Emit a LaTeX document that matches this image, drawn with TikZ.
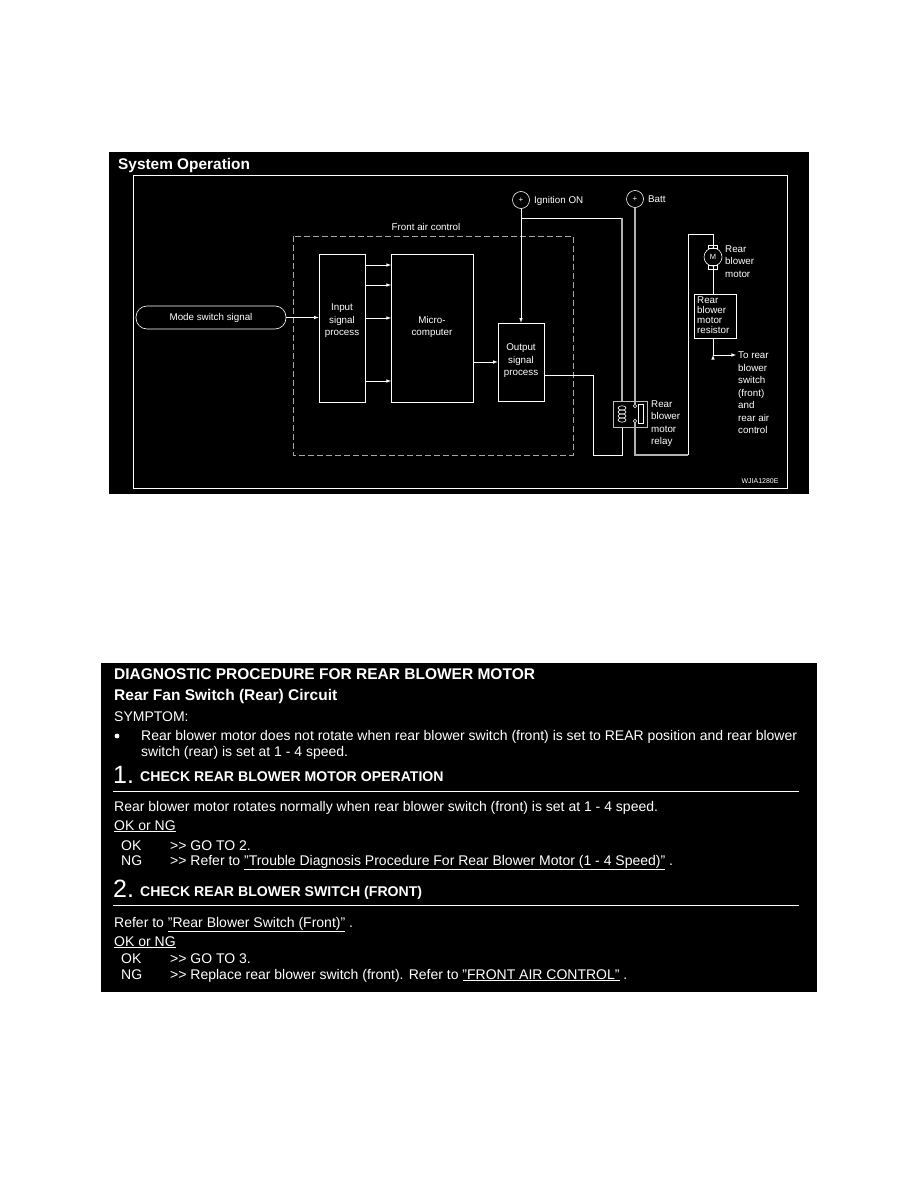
\documentclass[tikz,border=0pt]{standalone}
\usepackage{fontspec}
\setmainfont{Liberation Sans}
\usetikzlibrary{arrows}

\newcommand{\ul}[1]{\underline{#1}}
\newcommand{\qt}{\symbol{34}}

\begin{document}
\begin{tikzpicture}[x=1pt,y=-1pt,>=latex,
	wire/.style={white,line width=0.6pt},
	bus/.style={white!70!black,line width=1.5pt},
	blockbox/.style={draw=white,line width=0.6pt,inner sep=0pt},
	lbl/.style={text=white,inner sep=0pt,align=center,font=\fontsize{9.8}{12.5}\selectfont},
	lbll/.style={lbl,align=left,anchor=north west},
	diag/.style={text=white,inner sep=0pt,anchor=base west,font=\fontsize{14}{16}\selectfont},
	diagb/.style={diag,font=\fontsize{14.1}{16}\selectfont\bfseries}]
	\useasboundingbox[fill=white] (0,0) rectangle (918,1188);

	% upper panel
	\fill[black] (109,152) rectangle (809,494);
	\draw[white,line width=1pt] (133,175) rectangle (787,488);
	\node[text=white,inner sep=0pt,anchor=base west,font=\fontsize{15.4}{16}\selectfont\bfseries] (title) at (118,169) {System Operation};
	\draw[white!65!black,line width=0.8pt,dash pattern=on 6pt off 3pt] (293,236) rectangle (573,455);
	\node[lbl] (frontlbl) at (426,227) {Front air control};

	\node[blockbox,rounded corners=11pt,minimum width=150pt,minimum height=23pt] (modesig) at (211,317.5) {};
	\node[lbl] at (modesig) {Mode switch signal};
	\node[blockbox,minimum width=46pt,minimum height=148pt] (inproc) at (342,328) {};
	\node[lbl] (inlbl) at (342,321) {Input\\signal\\process};
	\node[blockbox,minimum width=82pt,minimum height=148pt] (micro) at (432,328) {};
	\node[lbl] (microlbl) at (432,327) {Micro-\\computer};
	\node[blockbox,minimum width=46pt,minimum height=78pt] (outproc) at (521,362) {};
	\node[lbl] (outlbl) at (521,361) {Output\\signal\\process};

	\node[circle,blockbox,minimum size=17pt,text=white,font=\fontsize{8}{8}\selectfont] (ign) at (521,200) {+};
	\node[circle,blockbox,minimum size=17pt,text=white,font=\fontsize{8}{8}\selectfont] (batt) at (635,199) {+};
	\node[lbl,anchor=west] (ignlbl) at (534,201) {Ignition ON};
	\node[lbl,anchor=west] (battlbl) at (648,199) {Batt};

	% relay
	\node[blockbox,draw=white!75!black,line width=1pt,minimum width=34pt,minimum height=26pt] (relay) at (630,414) {};
	\node[circle,blockbox,minimum size=3.4pt] (conta) at (635,406) {};
	\node[circle,blockbox,minimum size=3.4pt] (contb) at (635,421) {};
	\node[blockbox,minimum width=4.5pt,minimum height=19pt] (sw) at (641,413.5) {};
	\foreach \i in {0,1,2,3}
		\draw[white,line width=0.6pt] (622,408+4*\i) ellipse (4pt and 2.2pt);
	\node[lbll] (relaylbl) at (651,400.5) {Rear\\blower\\motor\\relay};

	% motor and resistor
	\node[circle,blockbox,minimum size=18pt,text=white,font=\fontsize{7.5}{8}\selectfont] (motor) at (713,257) {M};
	\draw[white,line width=0.6pt] (708.5,245) rectangle (717.5,248.5);
	\draw[white,line width=0.6pt] (708.5,265.5) rectangle (717.5,269);
	\node[lbll] (motorlbl) at (725,245.5) {Rear\\blower\\motor};
	\node[blockbox,line width=1pt,minimum width=42pt,minimum height=44pt] (resistor) at (715,316) {};
	\node[lbll,font=\fontsize{9.8}{10}\selectfont] (reslbl) at (697,297) {Rear\\blower\\motor\\resistor};
	\node[lbll] (tolbl) at (738,352) {To rear\\blower\\switch\\(front)\\and\\rear air\\control};
	\node[lbl] (code) at (760,481) {\fontsize{7}{8}\selectfont WJIA1280E};

	\coordinate (a1) at (391,265);
	\coordinate (a2) at (391,285);
	\coordinate (a3) at (391,318);
	\coordinate (a4) at (391,381);
	\coordinate (ignbr) at (622,218);
	\coordinate (coilin) at (622,401);
	\coordinate (battbot) at (635,455);
	\coordinate (wup) at (688,455);
	\coordinate (wtop) at (688,234);
	\coordinate (mtop) at (713,234);
	\coordinate (outa) at (593,375);
	\coordinate (outb) at (593,455);
	\coordinate (outc) at (622,455);
	\coordinate (resout) at (713,355);
	\coordinate (resto) at (736,355);

	\path[->,wire,draw]
	(modesig.east) edge (inproc.west |- modesig.east)
	(inproc.east |- a1) edge (a1)
	(inproc.east |- a2) edge (a2)
	(inproc.east |- a3) edge (a3)
	(inproc.east |- a4) edge (a4)
	(micro.east |- outproc.west) edge (outproc.west)
	(ign) edge (outproc.north)
	(resout) edge (resto);
	\draw[wire] (ign |- ignbr) -- (ignbr);
	\draw[bus] (ignbr) -- (coilin);
	\draw[bus] (batt) -- (conta);
	\draw[bus] (contb) -- (battbot) -- (wup);
	\draw[wire] (wup) -- (wtop) -- (mtop) -- (motor);
	\draw[wire] (motor) -- (resistor.north -| motor);
	\draw[wire] (resistor.south -| motor) -- (resout);
	\draw[wire] (outproc.east |- outa) -- (outa) -- (outb) -- (outc) -- (relay.south -| outc);

	% lower panel
	\fill[black] (101,663) rectangle (817,992);
	\node[diagb,font=\fontsize{15.5}{16}\selectfont\bfseries] (dtitle) at (114,679) {DIAGNOSTIC PROCEDURE FOR REAR BLOWER MOTOR};
	\node[diagb,font=\fontsize{15.5}{16}\selectfont\bfseries] (dsub) at (114,700) {Rear Fan Switch (Rear) Circuit};
	\node[diag] (sym) at (114,721) {SYMPTOM:};
	\fill[white] (117,736) circle (2.4pt);
	\node[diag] (s1) at (141,740) {Rear blower motor does not rotate when rear blower switch (front) is set to REAR position and rear blower};
	\node[diag] (s2) at (141,756) {switch (rear) is set at 1 - 4 speed.};
	\node[diag,font=\fontsize{25}{26}\selectfont] (n1) at (113,783) {1.};
	\node[diagb] (h1) at (140,781) {CHECK REAR BLOWER MOTOR OPERATION};
	\draw[white,line width=0.8pt] (113,791) -- (799,791);
	\node[diag] (p1) at (114,811) {Rear blower motor rotates normally when rear blower switch (front) is set at 1 - 4 speed.};
	\node[diag] (q1) at (114,830) {\ul{OK or NG}};
	\node[diag] (ok1) at (121,850) {OK};
	\node[diag] (okt1) at (170,850) {>{}> GO TO 2.};
	\node[diag] (ng1) at (121,865) {NG};
	\node[diag] (ngt1) at (170,865) {>{}> Refer to \ul{\qt Trouble Diagnosis Procedure For Rear Blower Motor (1 - 4 Speed)\qt} .};
	\node[diag,font=\fontsize{25}{26}\selectfont] (n2) at (113,897) {2.};
	\node[diagb] (h2) at (140,896) {CHECK REAR BLOWER SWITCH (FRONT)};
	\draw[white,line width=0.8pt] (113,905) -- (799,905);
	\node[diag] (p2) at (114,927) {Refer to \ul{\qt Rear Blower Switch (Front)\qt} .};
	\node[diag] (q2) at (114,946) {\ul{OK or NG}};
	\node[diag] (ok2) at (121,963) {OK};
	\node[diag] (okt2) at (170,963) {>{}> GO TO 3.};
	\node[diag] (ng2) at (121,979) {NG};
	\node[diag] (ngt2) at (170,979) {>{}> Replace rear blower switch (front). Refer to \ul{\qt FRONT AIR CONTROL\qt} .};
\end{tikzpicture}
\end{document}
